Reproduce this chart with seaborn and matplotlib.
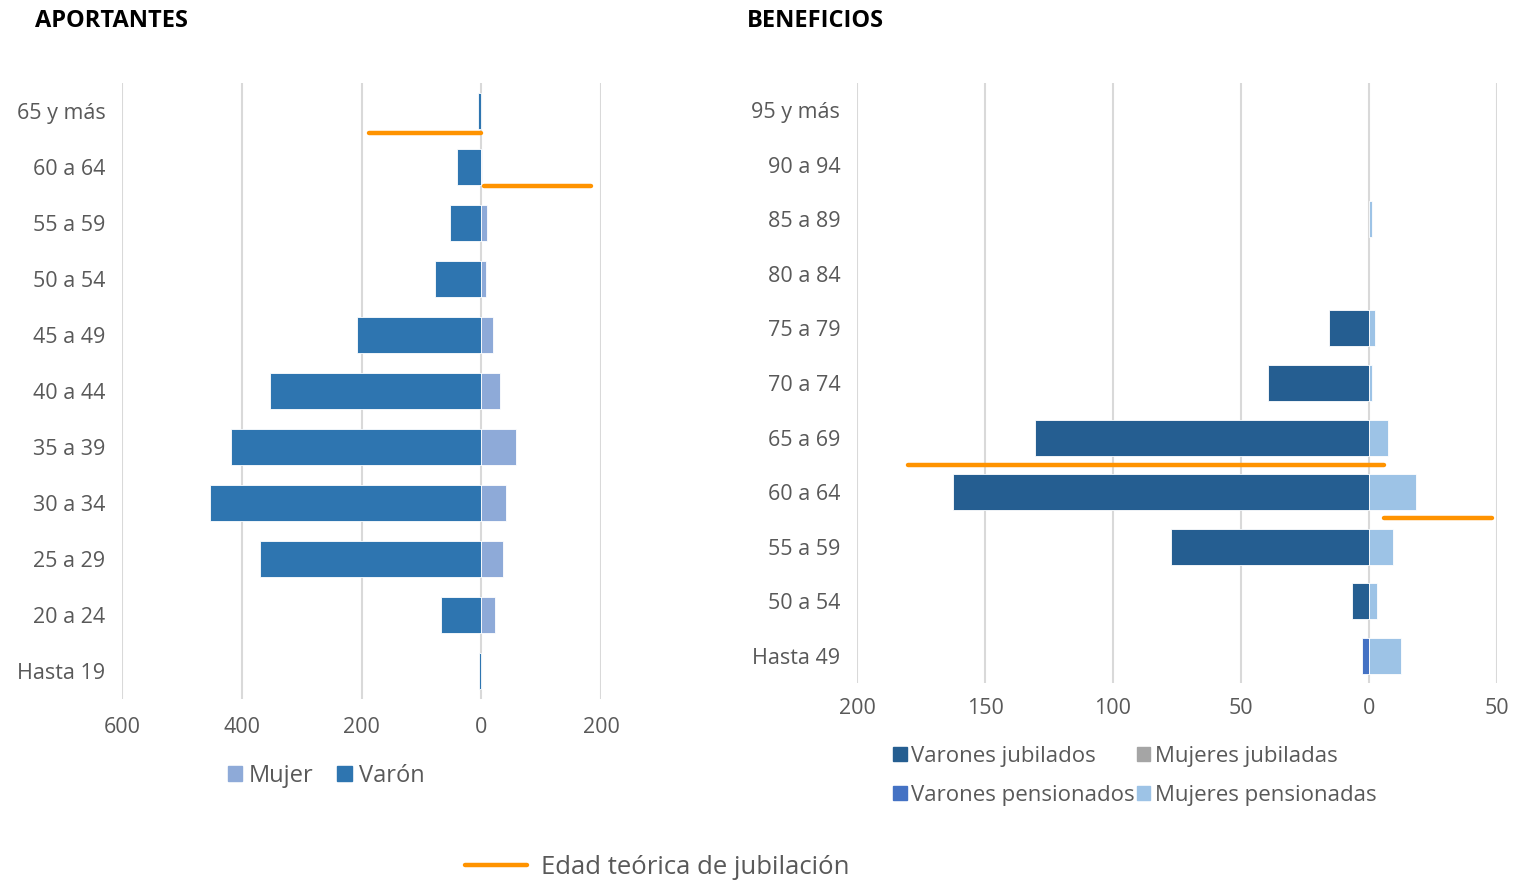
import pandas as pd
import numpy as np
import matplotlib
matplotlib.use('Agg')
import matplotlib.pyplot as plt
from matplotlib.patches import Patch
from matplotlib.lines import Line2D
from matplotlib.ticker import FuncFormatter
import seaborn as sns

# Aportantes (miles)
edades_aport = ['65 y más', '60 a 64', '55 a 59', '50 a 54', '45 a 49', '40 a 44',
                '35 a 39', '30 a 34', '25 a 29', '20 a 24', 'Hasta 19']
aport_varon = [5, 40, 53, 77, 208, 353, 418, 453, 370, 67, 4]
aport_mujer = [0, 2, 10, 8, 20, 32, 58, 42, 37, 23, 0]

# Beneficios (miles)
edades_benef = ['95 y más', '90 a 94', '85 a 89', '80 a 84', '75 a 79', '70 a 74',
                '65 a 69', '60 a 64', '55 a 59', '50 a 54', 'Hasta 49']
varones_jub = [0, 0, 0, 0, 15.6, 39.5, 130.5, 162.5, 77.3, 6.6, 0]
mujeres_jub = [0, 0, 0, 0, 0, 0, 0, 0, 0, 0, 0]
varones_pen = [0, 0, 0, 0, 0, 0, 0, 0, 0, 0, 2.7]
mujeres_pen = [0, 0, 1, 0, 2.3, 1.2, 7.4, 18.4, 9.4, 3.2, 12.4]

# Edad teórica de jubilación (posición en el eje de edades, tramo en x)
jub_aport_pos = [0.39, 1.34]
jub_aport_x = [(-188, 0), (5, 183)]
jub_benef_pos = [6.51, 7.48]
jub_benef_x = [(-180, 6), (6, 48)]

c_varon = '#2e75b0'
c_mujer = '#8eaad8'
c_vj = '#255e91'
c_mj = '#a5a5a5'
c_vp = '#4472c4'
c_mp = '#9dc3e6'
c_jub = '#ff9300'
gris = '#595959'

sns.set_theme(style='white')
plt.rcParams['font.family'] = ['Open Sans', 'DejaVu Sans']

fig = plt.figure(figsize=(15.14, 8.8), dpi=100)
ax1 = fig.add_axes([122 / 1514, 1 - 699 / 880, 479 / 1514, 616 / 880])
ax2 = fig.add_axes([857 / 1514, 1 - 683 / 880, 640 / 1514, 600 / 880])

# --- Aportantes
df_a = pd.DataFrame({
    'edad': edades_aport * 2,
    'sexo': ['Varón'] * len(edades_aport) + ['Mujer'] * len(edades_aport),
    'valor': [-v for v in aport_varon] + aport_mujer,
})
df_a = df_a[df_a['valor'] != 0]
sns.barplot(data=df_a, x='valor', y='edad', hue='sexo', order=edades_aport,
            hue_order=['Varón', 'Mujer'],
            palette={'Varón': c_varon, 'Mujer': c_mujer}, dodge=False, saturation=1,
            width=0.66, edgecolor='white', linewidth=0.6, legend=False,
            orient='h', ax=ax1, zorder=3)
for pos, (x0, x1) in zip(jub_aport_pos, jub_aport_x):
    ax1.plot([x0, x1], [pos, pos], color=c_jub, lw=3.2, solid_capstyle='round', zorder=4)
ax1.set_xlim(-600, 200)
ax1.set_xticks(np.arange(-600, 201, 200))

# --- Beneficios
series = {'Varones jubilados': [-v for v in varones_jub],
          'Mujeres jubiladas': mujeres_jub,
          'Varones pensionados': [-v for v in varones_pen],
          'Mujeres pensionadas': mujeres_pen}
df_b = pd.DataFrame([(e, k, v) for k, vals in series.items() for e, v in zip(edades_benef, vals)],
                    columns=['edad', 'tipo', 'valor'])
df_b = df_b[df_b['valor'] != 0]
pal_b = {'Varones jubilados': c_vj, 'Mujeres jubiladas': c_mj,
         'Varones pensionados': c_vp, 'Mujeres pensionadas': c_mp}
sns.barplot(data=df_b, x='valor', y='edad', hue='tipo', order=edades_benef,
            hue_order=list(series.keys()),
            palette=pal_b, dodge=False, saturation=1, width=0.66, edgecolor='white',
            linewidth=0.6, legend=False, orient='h', ax=ax2, zorder=3)
for pos, (x0, x1) in zip(jub_benef_pos, jub_benef_x):
    ax2.plot([x0, x1], [pos, pos], color=c_jub, lw=3.2, solid_capstyle='round', zorder=4)
ax2.set_xlim(-200, 50)
ax2.set_xticks(np.arange(-200, 51, 50))

for ax in (ax1, ax2):
    ax.set_ylim(len(edades_aport) - 0.5, -0.5)
    ax.set_xlabel('')
    ax.set_ylabel('')
    ax.xaxis.set_major_formatter(FuncFormatter(lambda v, p: f'{abs(v):.0f}'))
    ax.grid(axis='x', color='#d9d9d9', lw=1.5, zorder=0)
    ax.grid(axis='y', visible=False)
    ax.set_axisbelow(True)
    for s in ax.spines.values():
        s.set_visible(False)
    ax.tick_params(axis='both', length=0, labelsize=15.5, colors=gris)
ax1.tick_params(axis='x', pad=13)
ax2.tick_params(axis='x', pad=11)
ax1.tick_params(axis='y', pad=12)
ax2.tick_params(axis='y', pad=12)

fig.text(35 / 1514, 1 - 21 / 880, 'APORTANTES', fontsize=17, fontweight='bold',
         color='black', va='center', ha='left')
fig.text(747 / 1514, 1 - 21 / 880, 'BENEFICIOS', fontsize=17, fontweight='bold',
         color='black', va='center', ha='left')

# leyendas
h1 = [Patch(color=c_mujer, label='Mujer'), Patch(color=c_varon, label='Varón')]
fig.legend(handles=h1, loc='center', bbox_to_anchor=(326 / 1514, 1 - 776 / 880),
           ncol=2, frameon=False, fontsize=17, labelcolor=gris, handlelength=0.6,
           handleheight=0.6, handletextpad=0.3, columnspacing=1.0)

h2 = [Patch(color=c_vj, label='Varones jubilados'), Patch(color=c_vp, label='Varones pensionados'),
      Patch(color=c_mj, label='Mujeres jubiladas'), Patch(color=c_mp, label='Mujeres pensionadas')]
fig.legend(handles=h2, loc='center', bbox_to_anchor=(1135 / 1514, 1 - 776 / 880),
           ncol=2, frameon=False, fontsize=16, labelcolor=gris, handlelength=0.6,
           handleheight=0.6, handletextpad=0.2, columnspacing=0.1, labelspacing=0.8)

h3 = [Line2D([0], [0], color=c_jub, lw=3.2, label='Edad teórica de jubilación')]
fig.legend(handles=h3, loc='center', bbox_to_anchor=(657 / 1514, 1 - 867 / 880),
           frameon=False, fontsize=18.5, labelcolor=gris, handlelength=2.4, handletextpad=0.55)

fig.savefig('out.png', dpi=100)
